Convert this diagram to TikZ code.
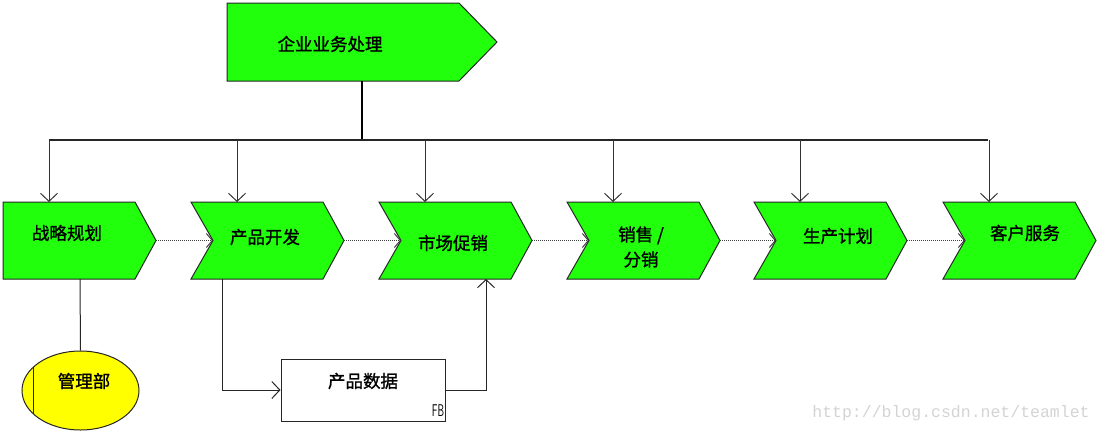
\documentclass[tikz,border=0pt]{standalone}
\usepackage{fontspec}
\newfontfamily\cjk[FakeBold=1.2]{Noto Sans CJK SC}
\newfontfamily\wmfont{Liberation Mono}
\usetikzlibrary{arrows.meta,shapes.geometric}
\definecolor{boxgreen}{RGB}{34,255,12}
\definecolor{ellyellow}{RGB}{255,255,0}
\definecolor{wmgray}{RGB}{212,212,212}
\begin{document}
\begin{tikzpicture}[x=1pt,y=-1pt,
  chev/.style={draw=black!85, fill=boxgreen, line width=1pt, line join=miter},
  lbl/.style={font=\cjk\fontsize{17.5}{22}\selectfont, inner sep=0pt, align=center},
  drop/.style={draw=black!80, line width=1pt, -{Straight Barb[length=8pt,width=17pt,line width=1pt]}},
  flow/.style={draw=black!75, line width=1pt, dash pattern=on 1.2pt off 0.8pt, -{Straight Barb[length=6pt,width=14pt,line width=1pt]}},
  link/.style={draw=black!85, line width=1pt, -{Straight Barb[length=8pt,width=17pt,line width=1pt]}},
  plain/.style={draw=black!85, line width=1pt},
]
\useasboundingbox (0,0) rectangle (1103,434);
\fill[white] (0,0) rectangle (1103,434);

% watermark
\node[font=\wmfont\fontsize{16.5}{18}\selectfont, text=wmgray, inner sep=0pt] (wm) at (951,413) {http://blog.csdn.net/teamlet};

% top process
\draw[chev] (227,3) -- (459,3) -- (497,42) -- (459,81) -- (227,81) -- cycle;
\node[lbl] (top) at (330,44) {企业业务处理};
\coordinate (topbot) at (362,81);
\coordinate (bus) at (362,140);
\draw[black, line width=2pt] (topbot) -- (bus);
\coordinate (busL) at (49,140);
\coordinate (busR) at (988,140);
\draw[black!85, line width=1.6pt] (busL) -- (busR);

% chevrons
\draw[chev] (3,202) -- (135,202) -- (156,240.5) -- (135,279) -- (3,279) -- cycle;
\foreach \L/\n in {191/2,379/3,567/4,754/5,943/6}{
  \draw[chev] (\L,202) -- (\L+132,202) -- (\L+153,240.5) -- (\L+132,279) -- (\L,279) -- (\L+22,240.5) -- cycle;
}
\foreach \L/\n in {3/1,191/2,379/3,567/4,754/5,943/6}{
  \coordinate (tip\n) at (\L+153,240.5);
  \coordinate (notch\n) at (\L+22,240.5);
  \coordinate (top\n) at (\L+46,202);
  \coordinate (bus\n) at (\L+46,140);
  \draw[drop] (bus\n) -- (top\n);
}
\node[lbl] (t1) at (67,233) {战略规划};
\node[lbl] (t2) at (265,237) {产品开发};
\node[lbl] (t3) at (453,243) {市场促销};
\node[lbl] (t4) at (641,247) {销售 /\\[3pt]分销};
\node[lbl] (t5) at (838,236) {生产计划};
\node[lbl] (t6) at (1025,233) {客户服务};

\foreach \a/\b in {1/2,2/3,3/4,4/5,5/6}{
  \draw[flow] (tip\a) -- (notch\b);
}

% organisation unit
\node[ellipse, draw=black!85, fill=ellyellow, line width=1pt, minimum width=117pt, minimum height=79pt, inner sep=0pt] (mgr) at (80.5,390.5) {};
\coordinate (mgrA) at (33,367);
\coordinate (mgrB) at (33,414);
\draw[plain] (mgrA) -- (mgrB);
\node[lbl] (mgrt) at (84,381) {管理部};
\coordinate (b1bot) at (80,279);
\draw[plain] (b1bot) -- (mgr.north);

% data object
\node[draw=black!85, line width=1pt, fill=white, minimum width=164pt, minimum height=62pt, inner sep=0pt] (data) at (363,390) {};
\node[lbl] (datat) at (363,381) {产品数据};
\node[font=\sffamily\fontsize{17}{18}\selectfont, inner sep=0pt] (fb) at (438,411) {\scalebox{0.62}[1]{FB}};
\coordinate (b2bot) at (222,279);
\coordinate (b3bot) at (486,279);
\draw[link] (b2bot) |- (data.west);
\draw[link] (data.east) -| (b3bot);
\end{tikzpicture}
\end{document}
